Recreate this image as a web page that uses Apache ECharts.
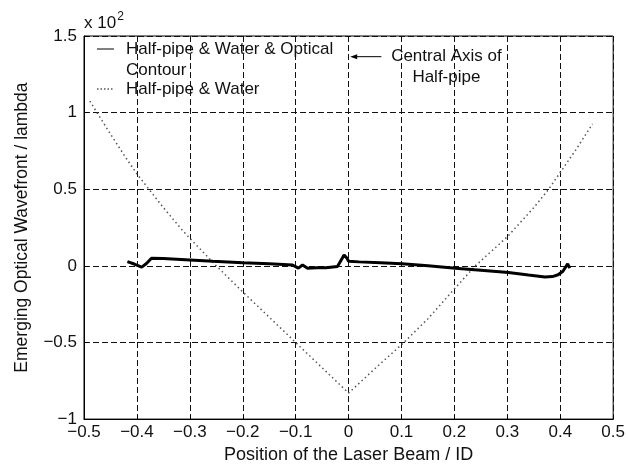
<!DOCTYPE html>
<html><head><meta charset="utf-8">
<script src="https://cdn.jsdelivr.net/npm/echarts@6/dist/echarts.min.js"></script>
<style>html,body{margin:0;padding:0;background:#fff}#c{width:628px;height:469px}</style>
</head><body><div id="c"></div>
<script>
const FONT = "'Liberation Sans', Arial, Helvetica, sans-serif";
const xTicks = [-0.5,-0.4,-0.3,-0.2,-0.1,0,0.1,0.2,0.3,0.4,0.5];
const yTicks = [-1,-0.5,0,0.5,1,1.5];
const seriesNames = ['Half-pipe & Water & Optical\nContour', 'Half-pipe & Water'];
// Half-pipe & Water & Optical Contour (x10^2)
const contourX = [-0.418,-0.405,-0.391,-0.382,-0.3725,-0.35,-0.30,-0.2565,-0.20,-0.15,-0.106,-0.095,-0.087,-0.0776,-0.06,-0.043,-0.021,-0.0085,-0.003,0,0.02,0.06,0.101,0.15,0.202,0.25,0.302,0.34,0.371,0.385,0.396,0.405,0.414,0.418];
const contourY = [0.028,0.012,-0.008,0.015,0.05,0.048,0.039,0.03,0.021,0.014,0.006,-0.015,0.006,-0.015,-0.012,-0.013,-0.004,0.071,0.05,0.03,0.026,0.02,0.013,0.0,-0.015,-0.028,-0.043,-0.06,-0.073,-0.07,-0.058,-0.035,0.013,-0.015];
// Half-pipe & Water (x10^2)
const waterX = [-0.489,-0.45,-0.421,-0.40,-0.35,-0.316,-0.30,-0.25,-0.20,-0.15,-0.10,-0.05,0,0.05,0.1045,0.15,0.20,0.2395,0.30,0.35,0.378,0.40,0.43,0.461];
const waterY = [1.075,0.86,0.706,0.60,0.38,0.24,0.18,0.0,-0.17,-0.335,-0.5,-0.665,-0.83,-0.67,-0.5,-0.345,-0.15,0.0,0.19,0.38,0.5,0.61,0.76,0.927];

const fmt = v => {
  let s = (Math.round(v*10)/10).toString();
  return s.replace('-', '\u2212');
};
const chart = echarts.init(document.getElementById('c'));
const option = {
  backgroundColor: '#fff',
  animation: false,
  grid: {left: 84, right: 13, top: 36, bottom: 48, show: true, borderColor: '#000', borderWidth: 1, backgroundColor: 'transparent'},
  xAxis: {
    type: 'value', min: -0.5, max: 0.5, interval: 0.1,
    name: 'Position of the Laser Beam / ID', nameLocation: 'middle', nameGap: 23,
    nameTextStyle: {fontFamily: FONT, fontSize: 18, color: '#111'},
    axisLine: {show: true, onZero: false, lineStyle: {color: '#000', width: 1}},
    axisTick: {show: true, inside: true, length: 4, lineStyle: {color: '#000'}},
    axisLabel: {formatter: fmt, fontFamily: FONT, fontSize: 17, color: '#111', margin: 5},
    splitLine: {show: true, lineStyle: {color: '#111', type: [6,3], width: 1}}
  },
  yAxis: {
    type: 'value', min: -1, max: 1.5, interval: 0.5,
    name: 'Emerging Optical Wavefront / lambda', nameLocation: 'middle', nameGap: 53, nameRotate: 90,
    nameTextStyle: {fontFamily: FONT, fontSize: 17.5, color: '#111'},
    axisLine: {show: true, onZero: false, lineStyle: {color: '#000', width: 1}},
    axisTick: {show: true, inside: true, length: 4, lineStyle: {color: '#000'}},
    axisLabel: {formatter: fmt, fontFamily: FONT, fontSize: 17, color: '#111', margin: 7},
    splitLine: {show: true, lineStyle: {color: '#111', type: [6,3], width: 1}}
  },
  series: [
    {name: seriesNames[1], type: 'line', data: waterX.map((x,i)=>[x, waterY[i]]), showSymbol: false,
     lineStyle: {color: '#555', width: 1.5, type: [1.5,3]}, z: 2},
    {name: seriesNames[0], type: 'line', data: contourX.map((x,i)=>[x, contourY[i]]), showSymbol: false,
     lineStyle: {color: '#000', width: 3}, z: 3}
  ]
};
chart.setOption(option);

function px(x, y) { return chart.convertToPixel({gridIndex: 0}, [x, y]); }
const tl = px(-0.5, 1.5);
const aStart = px(0.062, 1.365), aEnd = px(0.003, 1.365);
const txt = {fontFamily: FONT, fontSize: 17, fill: '#111'};
chart.setOption({
  graphic: [
    {type: 'text', left: tl[0], top: tl[1] - 25, style: {text: '{a|x 10}{s|2}', rich: {a: {fontFamily: FONT, fontSize: 17, fill: '#111', verticalAlign: 'bottom'}, s: {fontFamily: FONT, fontSize: 12, fill: '#111', verticalAlign: 'top', padding: [0,0,9,1]}}}},
    // legend
    {type: 'line', shape: {x1: tl[0] + 13, y1: tl[1] + 13, x2: tl[0] + 30, y2: tl[1] + 13}, style: {stroke: '#000', lineWidth: 1}},
    {type: 'text', x: tl[0] + 42, y: tl[1] + 13, style: Object.assign({}, txt, {text: 'Half-pipe & Water & Optical', textVerticalAlign: 'middle'})},
    {type: 'text', x: tl[0] + 42, y: tl[1] + 34, style: Object.assign({}, txt, {text: 'Contour', textVerticalAlign: 'middle'})},
    {type: 'line', shape: {x1: tl[0] + 13, y1: tl[1] + 53, x2: tl[0] + 30, y2: tl[1] + 53}, style: {stroke: '#000', lineWidth: 1, lineDash: [1.5, 2]}},
    {type: 'text', x: tl[0] + 42, y: tl[1] + 53, style: Object.assign({}, txt, {text: 'Half-pipe & Water', textVerticalAlign: 'middle'})},
    // annotation
    {type: 'line', shape: {x1: aStart[0], y1: aStart[1], x2: aEnd[0] + 4, y2: aEnd[1]}, style: {stroke: '#000', lineWidth: 1}},
    {type: 'polygon', shape: {points: [[aEnd[0], aEnd[1]], [aEnd[0] + 7, aEnd[1] - 2.5], [aEnd[0] + 7, aEnd[1] + 2.5]]}, style: {fill: '#000'}},
    {type: 'text', x: aStart[0] + 65, y: aStart[1], style: Object.assign({}, txt, {text: 'Central Axis of', textAlign: 'center', textVerticalAlign: 'middle'})},
    {type: 'text', x: aStart[0] + 65, y: aStart[1] + 21, style: Object.assign({}, txt, {text: 'Half-pipe', textAlign: 'center', textVerticalAlign: 'middle'})}
  ]
});
</script>
</body></html>
